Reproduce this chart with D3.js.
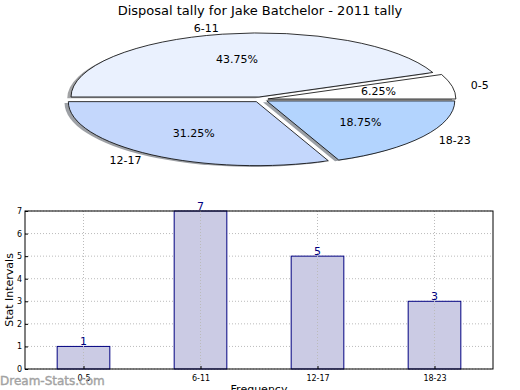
<!DOCTYPE html>
<html>
<head>
<meta charset="utf-8">
<script src="https://cdn.jsdelivr.net/npm/d3@7"></script>
<style>
  body { margin: 0; background: #fff; }
  text { font-family: "DejaVu Sans", sans-serif; }
</style>
</head>
<body>
<div id="chart-container"></div>
<script>
let width = 520;
let height = 390;

// data
let categories = ["0-5", "6-11", "12-17", "18-23"];
let counts = [1, 7, 5, 3];
let pieColors = ["#ffffff", "#eaf1fe", "#c4d7fc", "#b3d4fe"];
let yTicks = [0, 1, 2, 3, 4, 5, 6, 7];

var svg = d3
  .select("#chart-container")
  .append("svg")
  .attr("width", width)
  .attr("height", height);

// title
svg
  .append("text")
  .attr("x", 260)
  .attr("y", 15)
  .attr("text-anchor", "middle")
  .style("font-size", "13px")
  .text("Disposal tally for Jake Batchelor - 2011 tally");

// ---- Pie (squashed ellipse, matplotlib style) ----
let cx = 260.5, cy = 99.5, rx = 188, ry = 64;
let explode = 0.04;
let total = d3.sum(counts);

// matplotlib starts at 3 o'clock and goes counter-clockwise
let pie = d3
  .pie()
  .sort(null)
  .startAngle(Math.PI / 2)
  .endAngle(Math.PI / 2 - 2 * Math.PI);
let arcs = pie(counts);
let arc = d3.arc().innerRadius(0).outerRadius(1);

let pieG = svg.append("g");

function offsetOf(d, dist) {
  let mid = (d.startAngle + d.endAngle) / 2;
  return [Math.sin(mid) * dist, -Math.cos(mid) * dist];
}

// shadows
pieG
  .selectAll(".shadow")
  .data(arcs)
  .enter()
  .append("path")
  .attr("class", "shadow")
  .attr("d", arc)
  .attr("transform", (d) => {
    let o = offsetOf(d, explode);
    return `translate(${cx + o[0] * rx - 0.02 * rx},${cy + o[1] * ry + 0.02 * ry}) scale(${rx},${ry})`;
  })
  .style("fill", (d, i) => {
    let c = d3.rgb(pieColors[i]);
    return d3.rgb(c.r * 0.3, c.g * 0.3, c.b * 0.3);
  })
  .style("opacity", 0.5);

// wedges
pieG
  .selectAll(".wedge")
  .data(arcs)
  .enter()
  .append("path")
  .attr("class", "wedge")
  .attr("d", arc)
  .attr("transform", (d) => {
    let o = offsetOf(d, explode);
    return `translate(${cx + o[0] * rx},${cy + o[1] * ry}) scale(${rx},${ry})`;
  })
  .attr("vector-effect", "non-scaling-stroke")
  .style("fill", (d, i) => pieColors[i])
  .style("stroke", "black")
  .style("stroke-width", 0.8);

// outer labels
pieG
  .selectAll(".plabel")
  .data(arcs)
  .enter()
  .append("text")
  .attr("class", "plabel")
  .attr("x", (d) => cx + offsetOf(d, explode + 1.1)[0] * rx)
  .attr("y", (d) => cy + offsetOf(d, explode + 1.1)[1] * ry)
  .attr("dy", "0.35em")
  .attr("text-anchor", (d) => (offsetOf(d, 1)[0] < 0 ? "end" : "start"))
  .style("font-size", "11px")
  .text((d, i) => categories[i]);

// percentages
pieG
  .selectAll(".pct")
  .data(arcs)
  .enter()
  .append("text")
  .attr("class", "pct")
  .attr("x", (d) => cx + offsetOf(d, explode + 0.6)[0] * rx)
  .attr("y", (d) => cy + offsetOf(d, explode + 0.6)[1] * ry)
  .attr("dy", "0.35em")
  .attr("text-anchor", "middle")
  .style("font-size", "11px")
  .text((d) => ((d.value / total) * 100).toFixed(2) + "%");

// ---- Bar chart ----
let plotLeft = 25, plotRight = 493, plotTop = 211, plotBottom = 369;

let xScale = d3.scalePoint().domain(categories).range([plotLeft, plotRight]).padding(0.5);
let yScale = d3.scaleLinear().domain([0, 7]).range([plotBottom, plotTop]);
let barW = xScale.step() * 0.45;

let barG = svg.append("g");

// grid
barG
  .selectAll(".ygrid")
  .data(yTicks)
  .enter()
  .append("line")
  .attr("x1", plotLeft)
  .attr("x2", plotRight)
  .attr("y1", (d) => yScale(d))
  .attr("y2", (d) => yScale(d))
  .style("stroke", "#bbb")
  .style("stroke-dasharray", "1,2");

// bars
barG
  .selectAll(".bar")
  .data(counts)
  .enter()
  .append("rect")
  .attr("class", "bar")
  .attr("x", (d, i) => xScale(categories[i]) - barW / 2)
  .attr("y", (d) => yScale(d))
  .attr("width", barW)
  .attr("height", (d) => plotBottom - yScale(d))
  .style("fill", "#cbcbe4")
  .style("stroke", "#000080")
  .style("stroke-width", 1);

barG
  .selectAll(".xgrid")
  .data(categories)
  .enter()
  .append("line")
  .attr("x1", (d) => xScale(d))
  .attr("x2", (d) => xScale(d))
  .attr("y1", plotTop)
  .attr("y2", plotBottom)
  .style("stroke", "#bbb")
  .style("stroke-dasharray", "1,2");

// value labels
barG
  .selectAll(".val")
  .data(counts)
  .enter()
  .append("text")
  .attr("x", (d, i) => xScale(categories[i]))
  .attr("y", (d) => yScale(d) - 1)
  .attr("text-anchor", "middle")
  .style("font-size", "11px")
  .style("fill", "#000080")
  .text((d) => d);

// frame
barG
  .append("rect")
  .attr("x", plotLeft)
  .attr("y", plotTop)
  .attr("width", plotRight - plotLeft)
  .attr("height", plotBottom - plotTop)
  .style("fill", "none")
  .style("stroke", "black")
  .style("stroke-width", 1);

// axes
let yAxis = barG
  .append("g")
  .attr("transform", `translate(${plotLeft},0)`)
  .call(d3.axisLeft(yScale).tickValues(yTicks).tickFormat(d3.format("d")).tickSize(-3).tickPadding(3));
yAxis.select(".domain").remove();
yAxis.selectAll("text").style("font-size", "8px").style("font-family", "DejaVu Sans");

let xAxis = barG
  .append("g")
  .attr("transform", `translate(0,${plotBottom})`)
  .call(d3.axisBottom(xScale).tickSize(-3).tickPadding(6));
xAxis.select(".domain").remove();
xAxis.selectAll("text").style("font-size", "8px").style("font-family", "DejaVu Sans");

// axis labels
svg
  .append("text")
  .attr("transform", "rotate(-90)")
  .attr("x", -290)
  .attr("y", 13)
  .attr("text-anchor", "middle")
  .style("font-size", "11px")
  .text("Stat Intervals");

svg
  .append("text")
  .attr("x", 259)
  .attr("y", 393)
  .attr("text-anchor", "middle")
  .style("font-size", "11px")
  .text("Frequency");

// watermark
svg
  .append("text")
  .attr("x", 0)
  .attr("y", 385)
  .style("font-size", "12px")
  .style("fill", "#999")
  .style("stroke", "#999")
  .style("stroke-width", 0.4)
  .style("opacity", 0.9)
  .text("Dream-Stats.com");
</script>
</body>
</html>
